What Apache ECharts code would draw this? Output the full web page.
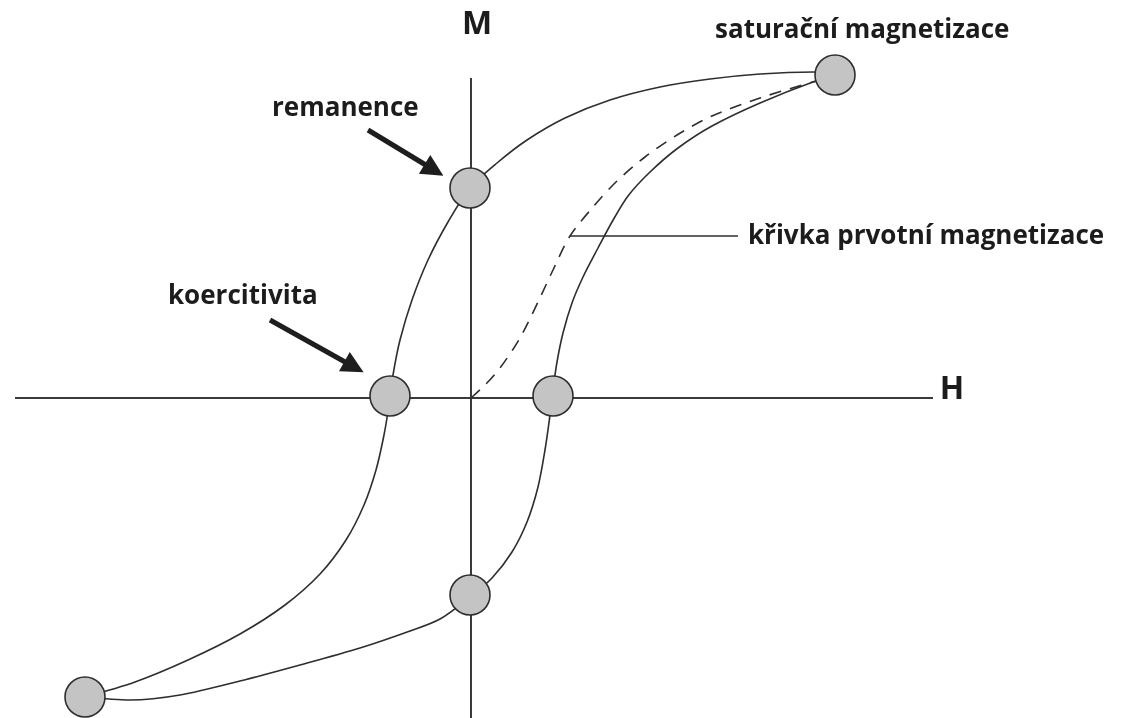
<!DOCTYPE html>
<html lang="cs">
<head>
    <meta charset="UTF-8">
    <title>hystereze</title>
    <script src="https://cdn.jsdelivr.net/npm/echarts@6/dist/echarts.min.js"></script>
    <style type="text/css">
        html, body {
            margin: 0;
            padding: 0;
            background: #ffffff;
        }
    </style>
</head>
<body>
<div id="main" style="width: 1123px;height:718px;"></div>
<script>
    // H (x) and M (y) values, arbitrary units
    var upper_branch = [
        [3.64, 3.23], [3.42, 3.26], [2.89, 3.24], [2.39, 3.19], [1.89, 3.11],
        [1.39, 2.98], [0.94, 2.80], [0.56, 2.58], [0.26, 2.35], [-0.01, 2.10],
        [-0.23, 1.76], [-0.43, 1.38], [-0.59, 0.98], [-0.71, 0.58], [-0.78, 0.23],
        [-0.82, -0.07], [-0.87, -0.37], [-0.95, -0.72], [-1.07, -1.07], [-1.25, -1.42],
        [-1.51, -1.76], [-1.86, -2.07], [-2.31, -2.36], [-2.83, -2.62], [-3.36, -2.84],
        [-3.86, -2.99]
    ];
    var lower_branch = [
        [-3.86, -2.99], [-3.41, -3.02], [-2.91, -2.97], [-2.31, -2.83], [-1.71, -2.67],
        [-1.11, -2.50], [-0.61, -2.33], [-0.31, -2.21], [-0.01, -1.99], [0.21, -1.80],
        [0.41, -1.54], [0.56, -1.24], [0.67, -0.89], [0.74, -0.52], [0.79, -0.17],
        [0.82, 0.08], [0.86, 0.36], [0.92, 0.65], [1.01, 0.95], [1.12, 1.21],
        [1.27, 1.50], [1.41, 1.76], [1.57, 2.02], [1.79, 2.26], [2.07, 2.50],
        [2.41, 2.72], [2.89, 2.95], [3.42, 3.16], [3.64, 3.22]
    ];
    // křivka prvotní magnetizace
    var initial_curve = [
        [0.00, 0.00], [0.14, 0.13], [0.29, 0.30], [0.49, 0.60], [0.67, 0.96],
        [0.82, 1.28], [0.99, 1.62], [1.22, 1.91], [1.46, 2.17], [1.74, 2.41],
        [2.06, 2.63], [2.41, 2.82], [2.89, 3.00], [3.42, 3.16], [3.64, 3.22]
    ];
    // saturace, remanence, koercitivita
    var key_points = [
        [3.64, 3.23], [-0.01, 2.10], [-0.81, 0.02], [0.82, 0.02], [-0.01, -1.97], [-3.86, -2.99]
    ];
    var h_axis = [[-4.56, 0], [4.62, 0]];
    var m_axis = [[0, 3.20], [0, -3.25]];
    var leader_line = [[0.99, 1.62], [2.67, 1.62]];
    var arrows = [
        [[-1.03, 2.68], [-0.37, 2.28]],
        [[-2.01, 0.78], [-1.17, 0.31]]
    ];

    var myChart = echarts.init(document.getElementById('main'));

    var txt = function (text, x, y, size, align) {
        return {
            type: 'text',
            x: x,
            y: y,
            style: {
                text: text,
                fill: '#1c1c1c',
                font: 'bold ' + size + 'px "Open Sans", sans-serif',
                textAlign: align || 'left',
                textVerticalAlign: 'middle'
            }
        };
    };

    var option = {
        backgroundColor: '#ffffff',
        animation: false,
        grid: {left: 0, right: 0, top: 0, bottom: 0},
        xAxis: {type: 'value', min: -4.71, max: 6.52, show: false},
        yAxis: {type: 'value', min: -3.20, max: 3.98, show: false},
        graphic: [
            txt('M', 477, 25, 32, 'center'),
            txt('H', 952, 390, 32, 'center'),
            txt('remanence', 272, 109, 26),
            txt('koercitivita', 168, 297, 26),
            txt('saturační magnetizace', 715, 31, 26),
            txt('křivka prvotní magnetizace', 748, 237, 26)
        ],
        series: [
            {
                type: 'line', data: h_axis, symbol: 'none',
                lineStyle: {color: '#3a3a3a', width: 2}
            },
            {
                type: 'line', data: m_axis, symbol: 'none',
                lineStyle: {color: '#3a3a3a', width: 2}
            },
            {
                type: 'line', data: upper_branch, symbol: 'none', smooth: 0.3,
                lineStyle: {color: '#2e2e2e', width: 1.6}
            },
            {
                type: 'line', data: lower_branch, symbol: 'none', smooth: 0.3,
                lineStyle: {color: '#2e2e2e', width: 1.6}
            },
            {
                type: 'line', data: initial_curve, symbol: 'none', smooth: 0.3,
                lineStyle: {color: '#2e2e2e', width: 1.6, type: [12, 9]}
            },
            {
                type: 'line', data: leader_line, symbol: 'none',
                lineStyle: {color: '#2e2e2e', width: 1.6}
            },
            {
                type: 'lines', coordinateSystem: 'cartesian2d',
                symbol: ['none', 'triangle'], symbolSize: 22,
                lineStyle: {color: '#1e1e1e', width: 5, opacity: 1},
                data: arrows.map(function (a) { return {coords: a}; })
            },
            {
                type: 'scatter', data: key_points, symbol: 'circle', symbolSize: 40,
                itemStyle: {color: '#c4c4c4', borderColor: '#2e2e2e', borderWidth: 1.6, opacity: 1},
                z: 5
            }
        ]
    };

    myChart.setOption(option);
</script>
</body>
</html>
